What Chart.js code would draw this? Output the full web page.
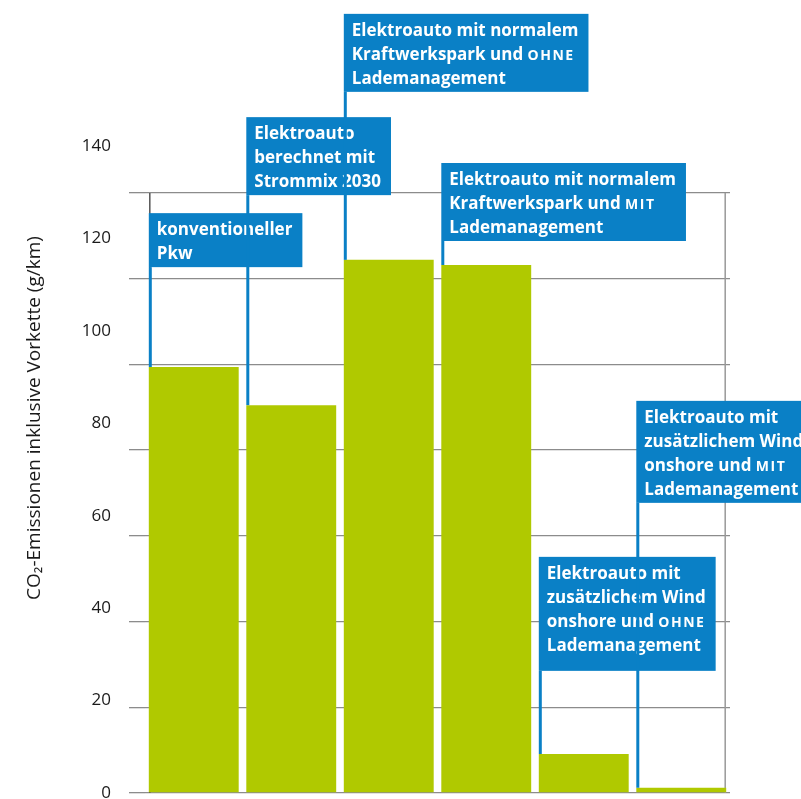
<!DOCTYPE html>
<html lang="de">
<head>
  <meta charset="UTF-8">
  <title>CO2-Emissionen</title>
  <script src="https://cdn.jsdelivr.net/npm/chart.js"></script>
  <style>
    html, body { margin: 0; padding: 0; background: #fff; }
    #wrap { width: 801px; height: 799px; }
  </style>
</head>
<body>
  <div id="wrap"><canvas id="grafico"></canvas></div>

  <script>
    // categories = texts of the blue boxes; *...* = small caps
    const categorias = [
      ['konventioneller', 'Pkw'],
      ['Elektroauto', 'berechnet mit', 'Strommix 2030'],
      ['Elektroauto mit normalem', 'Kraftwerkspark und *OHNE*', 'Lademanagement'],
      ['Elektroauto mit normalem', 'Kraftwerkspark und *MIT*', 'Lademanagement'],
      ['Elektroauto mit', 'zusätzlichem Wind', 'onshore und *OHNE*', 'Lademanagement'],
      ['Elektroauto mit', 'zusätzlichem Wind', 'onshore und *MIT*', 'Lademanagement']
    ];
    const emisiones = [99.4, 90.5, 124.4, 123.2, 9.1, 1.2];
    const ticksY = [0, 20, 40, 60, 80, 100, 120, 140];
    const tituloY = 'CO₂-Emissionen inklusive Vorkette (g/km)';

    // where the label boxes sit (top edge, in axis units) and extra bottom padding
    const cajaArriba = [135.3, 157.7, 181.8, 147.0, 55.1, 91.5];
    const cajaExtra = [0, 0, 0, 0, 12, 0];

    const azul = '#0a80c6';
    const verde = '#b0c900';
    const fuente = '"Open Sans", "Noto Sans", sans-serif';

    const marco = {
      id: 'marco',
      beforeDatasetsDraw(chart) {
        const {ctx, scales: {y}} = chart;
        const barras = chart.getDatasetMeta(0).data;
        const primera = barras[0], ultima = barras[barras.length - 1];
        const arriba = y.getPixelForValue(ticksY[ticksY.length - 1]);
        const abajo = y.getPixelForValue(0);
        ctx.save();
        ctx.lineWidth = 1.5;
        ctx.strokeStyle = '#555';
        const xl = primera.x - primera.width / 2 + 1;
        ctx.beginPath(); ctx.moveTo(xl, arriba); ctx.lineTo(xl, abajo); ctx.stroke();
        ctx.strokeStyle = '#999';
        const xr = ultima.x + ultima.width / 2 - 1;
        ctx.beginPath(); ctx.moveTo(xr, arriba); ctx.lineTo(xr, abajo); ctx.stroke();
        ctx.restore();
      }
    };

    function ponerFuente(ctx, pequena) {
      ctx.font = (pequena ? '700 14px ' : '700 17px ') + fuente;
      ctx.letterSpacing = pequena ? '1.5px' : '0px';
    }

    function medirLinea(ctx, linea) {
      let w = 0;
      linea.split('*').forEach((seg, i) => {
        ponerFuente(ctx, i % 2);
        w += ctx.measureText(seg).width;
      });
      return w;
    }

    const cajas = {
      id: 'cajas',
      afterDatasetsDraw(chart) {
        const {ctx, scales: {y}} = chart;
        const barras = chart.getDatasetMeta(0).data;
        ctx.save();
        barras.forEach((bar, i) => {
          const lineas = categorias[i];
          const izq = bar.x - bar.width / 2;
          const top = y.getPixelForValue(cajaArriba[i]);
          const alto = 22 + (lineas.length - 1) * 24 + 8 + cajaExtra[i];
          let ancho = 0;
          lineas.forEach(l => { ancho = Math.max(ancho, medirLinea(ctx, l)); });
          ancho += 18;

          // leader line
          ctx.strokeStyle = azul;
          ctx.lineWidth = 3;
          ctx.beginPath();
          ctx.moveTo(izq + 1.5, top + alto);
          ctx.lineTo(izq + 1.5, bar.y);
          ctx.stroke();

          ctx.fillStyle = azul;
          ctx.fillRect(izq, top, ancho, alto);

          ctx.fillStyle = '#fff';
          ctx.textBaseline = 'alphabetic';
          ctx.textAlign = 'left';
          lineas.forEach((l, k) => {
            let x = izq + 8;
            const yb = top + 22 + k * 24;
            l.split('*').forEach((seg, j) => {
              ponerFuente(ctx, j % 2);
              ctx.fillText(seg, x, yb);
              x += ctx.measureText(seg).width;
            });
          });
        });
        ctx.restore();
      }
    };

    new Chart(document.querySelector('#grafico'), {
      type: 'bar',
      data: {
        labels: categorias,
        datasets: [{
          data: emisiones,
          backgroundColor: verde,
          borderWidth: 0,
          barPercentage: 0.922,
          categoryPercentage: 1
        }]
      },
      options: {
        responsive: true,
        maintainAspectRatio: false,
        animation: false,
        layout: { padding: { top: 43, bottom: 6, left: 0, right: 71 } },
        plugins: { legend: { display: false }, tooltip: { enabled: false } },
        scales: {
          x: { display: false },
          y: {
            position: 'left',
            weight: 0,
            min: 0,
            max: 175,
            afterFit(s) { s.width = 16; s.paddingTop = 0; s.paddingBottom = 0; },
            border: { display: false },
            grid: {
              tickLength: 16,
              lineWidth: 1.3,
              color: c => (c.tick && c.tick.value > ticksY[ticksY.length - 1]) ? 'rgba(0,0,0,0)' : '#8c8c8c'
            },
            ticks: { display: false, stepSize: 20, includeBounds: false }
          },
          yLab: {
            position: 'left',
            weight: 1,
            min: 0,
            max: 162.3,
            afterFit(s) { s.width = 129; s.paddingTop = 0; s.paddingBottom = 0; },
            afterBuildTicks(s) { s.ticks = ticksY.map(v => ({ value: v })); },
            border: { display: false },
            grid: { display: false, drawTicks: false },
            ticks: {
              padding: 18,
              color: '#1a1a1a',
              font: { family: fuente, size: 17 }
            },
            title: {
              display: true,
              text: tituloY,
              color: '#1a1a1a',
              padding: { top: 23.5, bottom: 0 },
              font: { family: fuente, size: 19 }
            }
          }
        }
      },
      plugins: [marco, cajas]
    });
  </script>
</body>
</html>
